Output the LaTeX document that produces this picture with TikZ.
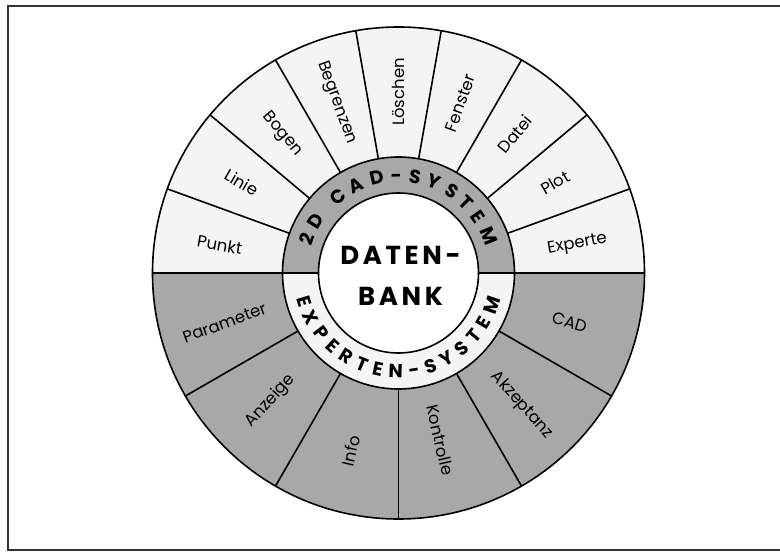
\documentclass[tikz,border=0pt]{standalone}
\usepackage{fontspec}
\setmainfont{Poppins}
\usetikzlibrary{decorations.text}
\definecolor{schattig}{gray}{0.66}
\definecolor{hell}{gray}{0.955}
\newcommand\ringschrift{\bfseries\fontsize{19}{19}\selectfont}

\begin{document}
\begin{tikzpicture}[x=1pt,y=1pt,every node/.style={inner sep=0pt,outer sep=0pt},
  feld/.style={font=\fontsize{16.5}{16.5}\selectfont},
  kern/.style={font=\bfseries\fontsize{26}{26}\selectfont\addfontfeature{LetterSpace=14}},
  linie/.style={line width=1.6pt}]
\useasboundingbox (-398.5,-279) rectangle (381.5,273);
\draw[line width=2pt,color=black!80] (381.5,266.5) -- (-390.5,266.5) -- (-390.5,-277) -- (381.5,-277);
% Flaechen
\fill[hell] (0,0) -- (0:246) arc (0:180:246) -- cycle;
\fill[schattig] (0,0) -- (180:246) arc (180:360:246) -- cycle;
\fill[schattig] (0,0) -- (0:116) arc (0:180:116) -- cycle;
\fill[hell] (0,0) -- (180:116) arc (180:360:116) -- cycle;
\fill[white] (0,0) circle (80);
% Kreise und Speichen
\draw[linie] (0,0) circle (246);
\draw[linie] (0,0) circle (116);
\draw[linie] (0,0) circle (80);
\draw[linie] (-246,0) -- (-80,0);
\draw[linie] (80,0) -- (246,0);
\draw[linie] (20:116) -- (20:246);
\draw[linie] (40:116) -- (40:246);
\draw[linie] (60:116) -- (60:246);
\draw[linie] (80:116) -- (80:246);
\draw[linie] (100:116) -- (100:246);
\draw[linie] (120:116) -- (120:246);
\draw[linie] (140:116) -- (140:246);
\draw[linie] (160:116) -- (160:246);
\draw[linie] (210:116) -- (210:246);
\draw[linie] (240:116) -- (240:246);
\draw[linie] (270:116) -- (270:246);
\draw[linie] (300:116) -- (300:246);
\draw[linie] (330:116) -- (330:246);
% obere Felder
\node[feld,rotate=-10] (punkt) at (171:181) {Punkt};
\node[feld,rotate=-30] (linie) at (150:181) {Linie};
\node[feld,rotate=-50] (bogen) at (130:181) {Bogen};
\node[feld,rotate=-70] (begrenzen) at (110:181) {Begrenzen};
\node[feld,rotate=90] (loeschen) at (90:181) {Löschen};
\node[feld,rotate=70] (fenster) at (70:181) {Fenster};
\node[feld,rotate=50] (datei) at (50:181) {Datei};
\node[feld,rotate=30] (plot) at (30:181) {Plot};
\node[feld,rotate=10] (experte) at (9:181) {Experte};
% untere Felder
\node[feld,rotate=20] (parameter) at (196:181) {Parameter};
\node[feld,rotate=48] (anzeige) at (225:181) {Anzeige};
\node[feld,rotate=77] (info) at (255:184) {Info};
\node[feld,rotate=-77] (kontrolle) at (284:172) {Kontrolle};
\node[feld,rotate=-48] (akzeptanz) at (313:181) {Akzeptanz};
\node[feld,rotate=-17] (cad) at (344:178) {CAD};
% Ring
\path[decorate,decoration={text along path,text align=fit to path,
  text={|\ringschrift|2D CAD-SYSTEM}}] (163:91) arc (163:17:91);
\path[decorate,decoration={text along path,text align=fit to path,
  text={|\ringschrift|EXPERTEN-SYSTEM}}] (194:105) arc (194:346:105);
% Mitte
\node[kern] (daten) at (2,18) {DATEN-};
\node[kern] (bank) at (2,-23) {BANK};
\end{tikzpicture}
\end{document}
